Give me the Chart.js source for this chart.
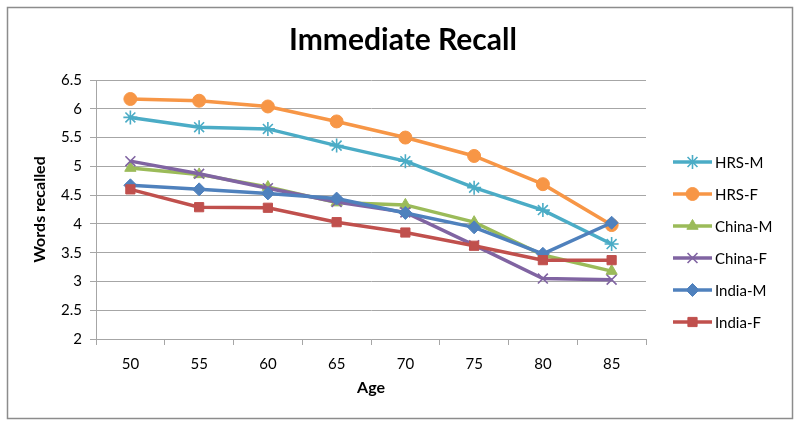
<!DOCTYPE html>
<html>
<head>
<meta charset="utf-8">
<script src="https://cdn.jsdelivr.net/npm/chart.js@4/dist/chart.umd.min.js"></script>
<style>
  html, body { margin: 0; padding: 0; background: #fff; }
  #wrap { width: 800px; height: 428px; }
</style>
</head>
<body>
<div id="wrap"><canvas id="chart" width="800" height="428"></canvas></div>
<script>
// chart data
const ages = ['50', '55', '60', '65', '70', '75', '80', '85'];
const seriesNames = ['HRS-M', 'HRS-F', 'China-M', 'China-F', 'India-M', 'India-F'];
const hrsM   = [5.85, 5.68, 5.65, 5.36, 5.09, 4.63, 4.24, 3.65];
const hrsF   = [6.17, 6.14, 6.04, 5.78, 5.50, 5.18, 4.69, 3.98];
const chinaM = [4.97, 4.86, 4.64, 4.37, 4.33, 4.03, 3.46, 3.18];
const chinaF = [5.09, 4.87, 4.62, 4.38, 4.20, 3.63, 3.05, 3.03];
const indiaM = [4.67, 4.60, 4.53, 4.44, 4.19, 3.94, 3.48, 4.02];
const indiaF = [4.60, 4.29, 4.28, 4.03, 3.85, 3.62, 3.37, 3.37];
const yTicks = [2, 2.5, 3, 3.5, 4, 4.5, 5, 5.5, 6, 6.5];

const FONT = 'Lato, "Open Sans", sans-serif';
const GRID = '#a6a6a6';

const styles = [
  { color: '#4BACC6', point: 'star',     radius: 7, bw: 1.6 },
  { color: '#F79646', point: 'circle',   radius: 6.5, bw: 1 },
  { color: '#9BBB59', point: 'triangle', radius: 6.5, bw: 1 },
  { color: '#8064A2', point: 'crossRot', radius: 7, bw: 1.6 },
  { color: '#4F81BD', point: 'rectRot',  radius: 6.5, bw: 1 },
  { color: '#C0504D', point: 'rect',     radius: 6.5, bw: 1 }
];
const values = [hrsM, hrsF, chinaM, chinaF, indiaM, indiaF];

const datasets = values.map((v, i) => ({
  label: seriesNames[i],
  data: v,
  borderColor: styles[i].color,
  backgroundColor: styles[i].color,
  pointBackgroundColor: styles[i].color,
  pointBorderColor: styles[i].color,
  pointStyle: styles[i].point,
  pointRadius: styles[i].radius,
  pointBorderWidth: styles[i].bw,
  borderWidth: 3.5,
  tension: 0,
  order: values.length - i   // later series on top, like Excel
}));

// outer frame + right side legend (line with marker)
const frameLegend = {
  id: 'frameLegend',
  afterDraw(chart) {
    const ctx = chart.ctx;
    ctx.save();
    ctx.strokeStyle = '#8c8c8c';
    ctx.lineWidth = 1.5;
    ctx.strokeRect(7.5, 7.5, 785, 411);

    const x0 = 673, x1 = 712, yStart = 162, step = 32;
    chart.data.datasets.forEach((ds, i) => {
      const y = yStart + i * step;
      ctx.strokeStyle = ds.borderColor;
      ctx.lineWidth = 3.5;
      ctx.beginPath();
      ctx.moveTo(x0, y);
      ctx.lineTo(x1, y);
      ctx.stroke();
      ctx.fillStyle = ds.pointBackgroundColor;
      ctx.strokeStyle = ds.pointBorderColor;
      ctx.lineWidth = ds.pointBorderWidth;
      Chart.helpers.drawPoint(ctx, {
        pointStyle: ds.pointStyle, radius: ds.pointRadius, borderWidth: ds.pointBorderWidth, rotation: 0
      }, (x0 + x1) / 2, y);
      ctx.fillStyle = '#000';
      ctx.font = '15px ' + FONT;
      ctx.textBaseline = 'middle';
      ctx.fillText(ds.label, x1 + 3, y + 1);
    });
    ctx.restore();
  }
};

new Chart(document.getElementById('chart'), {
  type: 'line',
  data: { labels: ages, datasets },
  options: {
    responsive: false,
    animation: false,
    layout: { padding: { top: 9, left: 6, right: 0, bottom: 10 } },
    plugins: {
      legend: { display: false },
      tooltip: { enabled: false },
      title: {
        display: true,
        text: 'Immediate Recall',
        color: '#000',
        font: { family: FONT, size: 30, weight: 'bold' },
        padding: { top: 13, bottom: 22 }
      }
    },
    scales: {
      x: {
        offset: true,
        grid: { offset: true, drawOnChartArea: false, drawTicks: true, tickLength: 6, color: GRID },
        border: { display: true, color: GRID, width: 1 },
        ticks: { color: '#000', font: { family: FONT, size: 15 }, padding: 10, maxRotation: 0 },
        title: {
          display: true, text: 'Age', color: '#000',
          font: { family: FONT, size: 16, weight: 'bold' },
          padding: { top: 0, bottom: 21 }
        },
        afterFit(scale) { scale.height = 428 - 10 - 339; }
      },
      y: {
        min: 2,
        max: 6.5,
        afterBuildTicks(scale) { scale.ticks = yTicks.map(v => ({ value: v })); },
        grid: { color: GRID, tickLength: 6 },
        border: { display: true, color: GRID, width: 1 },
        ticks: {
          color: '#000', font: { family: FONT, size: 15 }, padding: 8,
          callback: v => String(v)
        },
        title: {
          display: true, text: 'Words recalled', color: '#000',
          font: { family: FONT, size: 16, weight: 'bold' },
          padding: { top: 24, bottom: 0 }
        },
        afterFit(scale) { scale.width = 96 - 6; }
      },
      // empty right-hand box that keeps room for the legend
      legendSpace: {
        position: 'right',
        display: true,
        grid: { display: false },
        border: { display: false },
        ticks: { display: false },
        afterFit(scale) { scale.width = 800 - 646; }
      }
    }
  },
  plugins: [frameLegend]
});
</script>
</body>
</html>
